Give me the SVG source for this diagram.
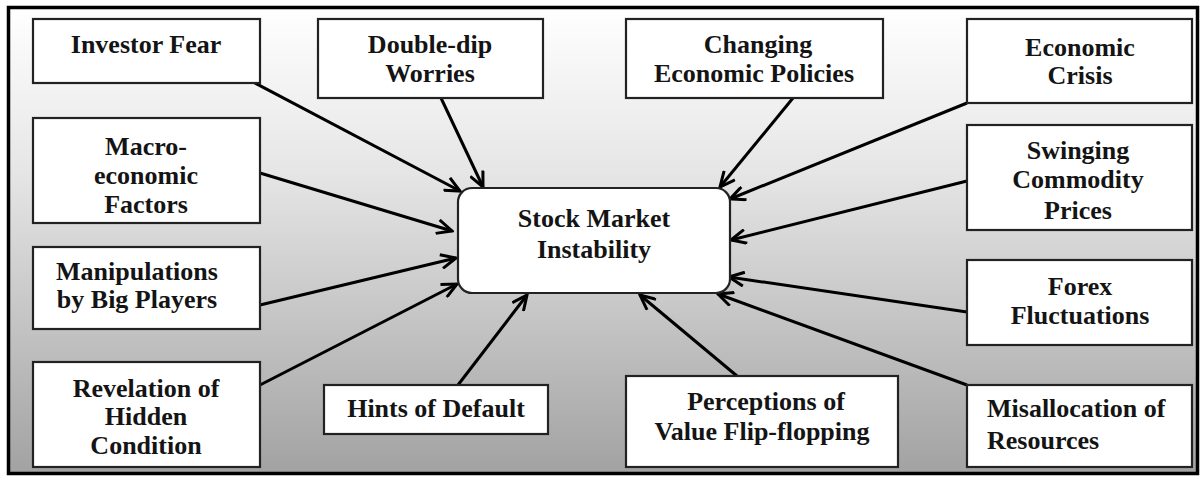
<svg xmlns="http://www.w3.org/2000/svg" width="1202" height="477" viewBox="0 0 1202 477">
  <style>
    .box { fill: #ffffff; stroke: #222222; stroke-width: 2.2; }
    .lbl { font-family: "Liberation Serif", "Times New Roman", serif; font-weight: bold; font-size: 26px; fill: #141414; text-anchor: middle; }
    .lbl-start { text-anchor: start; }
    .conn { stroke: #000000; stroke-width: 3; fill: none; marker-end: url(#arrow); }
  </style>
  <defs>
    <linearGradient id="bg" x1="0" y1="0" x2="0" y2="1">
      <stop offset="0" stop-color="#ffffff"/>
      <stop offset="0.35" stop-color="#e6e6e6"/>
      <stop offset="1" stop-color="#a2a2a2"/>
    </linearGradient>
    <marker id="arrow" viewBox="0 0 18 16" refX="16" refY="8" markerWidth="18" markerHeight="16" markerUnits="userSpaceOnUse" orient="auto">
      <path d="M1,1 L16,8 L1,15" fill="none" stroke="#000000" stroke-width="3" stroke-linejoin="miter"/>
    </marker>
  </defs>

  <!-- background panel -->
  <rect x="0" y="0" width="1202" height="477" fill="#ffffff"/>
  <rect x="8.5" y="7.5" width="1189" height="466" fill="url(#bg)" stroke="#000000" stroke-width="3.5"/>

  <!-- connectors -->
  <g id="connectors">
    <line class="conn" x1="253" y1="82" x2="460" y2="191"/>
    <line class="conn" x1="441" y1="98" x2="483" y2="187"/>
    <line class="conn" x1="793" y1="98" x2="720" y2="187"/>
    <line class="conn" x1="967" y1="103" x2="730" y2="199"/>
    <line class="conn" x1="967" y1="181" x2="731" y2="240"/>
    <line class="conn" x1="967" y1="312" x2="729" y2="277"/>
    <line class="conn" x1="967" y1="385" x2="718" y2="294"/>
    <line class="conn" x1="737" y1="376" x2="640" y2="295"/>
    <line class="conn" x1="458" y1="385" x2="527" y2="295"/>
    <line class="conn" x1="260" y1="385" x2="457" y2="284"/>
    <line class="conn" x1="260" y1="305" x2="456" y2="258"/>
    <line class="conn" x1="260" y1="173" x2="452" y2="231"/>
  </g>

  <!-- central node -->
  <g id="stock-market-instability">
    <rect class="box" x="458" y="188" width="272" height="105" rx="14" ry="14"/>
    <text class="lbl" x="594" y="227">Stock Market</text>
    <text class="lbl" x="594" y="258">Instability</text>
  </g>

  <!-- left column -->
  <g id="investor-fear">
    <rect class="box" x="33" y="19" width="227" height="64"/>
    <text class="lbl" x="146" y="53">Investor Fear</text>
  </g>
  <g id="macroeconomic-factors">
    <rect class="box" x="33" y="118" width="227" height="105"/>
    <text class="lbl" x="146" y="155">Macro-</text>
    <text class="lbl" x="146" y="184">economic</text>
    <text class="lbl" x="146" y="213">Factors</text>
  </g>
  <g id="manipulations">
    <rect class="box" x="33" y="247" width="227" height="82"/>
    <text class="lbl" x="137" y="280">Manipulations</text>
    <text class="lbl" x="137" y="308">by Big Players</text>
  </g>
  <g id="revelation">
    <rect class="box" x="33" y="362" width="227" height="105"/>
    <text class="lbl" x="146" y="397">Revelation of</text>
    <text class="lbl" x="146" y="425">Hidden</text>
    <text class="lbl" x="146" y="454">Condition</text>
  </g>

  <!-- top row -->
  <g id="double-dip">
    <rect class="box" x="318" y="19" width="225" height="79"/>
    <text class="lbl" x="430" y="53">Double-dip</text>
    <text class="lbl" x="430" y="82">Worries</text>
  </g>
  <g id="changing-policies">
    <rect class="box" x="626" y="19" width="257" height="79"/>
    <text class="lbl" x="758" y="53">Changing</text>
    <text class="lbl" x="754" y="82">Economic Policies</text>
  </g>

  <!-- bottom row -->
  <g id="hints-of-default">
    <rect class="box" x="324" y="385" width="224" height="49"/>
    <text class="lbl" x="436" y="417">Hints of Default</text>
  </g>
  <g id="perceptions">
    <rect class="box" x="626" y="376" width="272" height="91"/>
    <text class="lbl" x="766" y="410">Perceptions of</text>
    <text class="lbl" x="762" y="440">Value Flip-flopping</text>
  </g>

  <!-- right column -->
  <g id="economic-crisis">
    <rect class="box" x="967" y="19" width="225" height="84"/>
    <text class="lbl" x="1080" y="56">Economic</text>
    <text class="lbl" x="1080" y="84">Crisis</text>
  </g>
  <g id="commodity-prices">
    <rect class="box" x="967" y="125" width="225" height="105"/>
    <text class="lbl" x="1078" y="159">Swinging</text>
    <text class="lbl" x="1078" y="188">Commodity</text>
    <text class="lbl" x="1078" y="219">Prices</text>
  </g>
  <g id="forex">
    <rect class="box" x="967" y="260" width="225" height="85"/>
    <text class="lbl" x="1080" y="295">Forex</text>
    <text class="lbl" x="1080" y="324">Fluctuations</text>
  </g>
  <g id="misallocation">
    <rect class="box" x="967" y="385" width="225" height="82"/>
    <text class="lbl lbl-start" x="987" y="417">Misallocation of</text>
    <text class="lbl lbl-start" x="987" y="449">Resources</text>
  </g>
</svg>
